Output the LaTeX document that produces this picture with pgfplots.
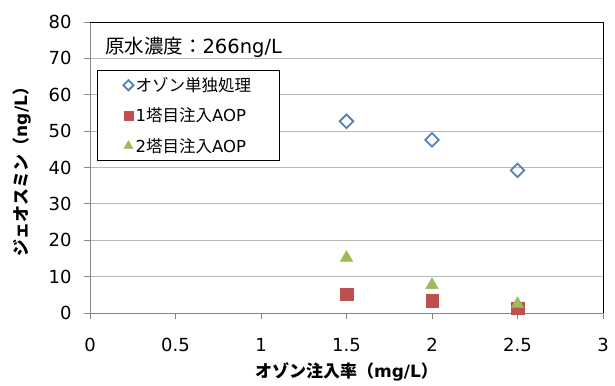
\documentclass[border=0pt]{standalone}
\usepackage{fontspec}
\setmainfont{DejaVu Sans}
\newfontfamily\cjk{Noto Sans CJK JP}
\usepackage{pgfplots}
\pgfplotsset{compat=1.18}
\definecolor{oblue}{HTML}{4F81BD}
\definecolor{ored}{HTML}{C0504D}
\definecolor{ogreen}{HTML}{9BBB59}
\definecolor{gridc}{HTML}{B8B8B8}
\definecolor{axc}{HTML}{868686}
\begin{document}
\begin{tikzpicture}
\useasboundingbox (-90bp,-73bp) rectangle (525bp,313bp);
\begin{axis}[
  at={(0,0)}, anchor=south west,
  scale only axis, width=513bp, height=291bp,
  xmin=0, xmax=3, ymin=0, ymax=80,
  xtick={0,0.5,1,1.5,2,2.5,3},
  xticklabels={0,0.5,1,1.5,2,2.5,3},
  ytick={0,10,...,80},
  /pgf/number format/assume math mode=true,
  tick label style={font=\fontsize{18bp}{20bp}\selectfont, text=black},
  tick align=outside,
  major tick length=6bp,
  tick style={axc, line width=0.8pt},
  axis line style={axc, line width=0.8pt},
  ymajorgrids, grid style={gridc, line width=0.8pt},
  xtick pos=bottom, ytick pos=left,
  yticklabel style={xshift=-9bp},
  xticklabel style={yshift=-16bp},
  xlabel={\bfseries {\cjk オゾン注入率（}mg/L{\cjk ）}},
  ylabel={\bfseries {\cjk ジェオスミン（}ng/L{\cjk ）}},
  label style={font=\fontsize{17bp}{19bp}\selectfont},
  xlabel style={at={(rel axis cs:0.5,0)}, anchor=center, yshift=-59bp},
  ylabel style={at={(rel axis cs:0,0.5)}, anchor=center, yshift=68bp},
  legend style={at={(rel axis cs:0.0136,0.835)}, anchor=north west,
    draw=black, line width=0.8pt, font=\fontsize{16.5bp}{18bp}\selectfont,
    row sep=11bp, inner xsep=26bp, inner ysep=5bp, cells={anchor=west, inner xsep=1bp}},
  legend image code/.code={\draw[mark repeat=2,mark phase=2, every mark/.append style={scale=0.75}] plot coordinates {(0bp,0bp)(14bp,0bp)(20bp,0bp)};},
  clip=false,
]
\addplot[only marks, mark=square, mark size=4.8bp, mark options={rotate=45, draw=oblue, line width=1.8pt, fill=white}]
  coordinates {(1.5,52.7) (2,47.6) (2.5,39.2)};
\addlegendentry{\cjk オゾン単独処理}
\addplot[only marks, mark=square*, mark size=6.3bp, mark options={draw=ored, fill=ored, line width=0.4pt}]
  coordinates {(1.5,5.2) (2,3.3) (2.5,1.3)};
\addlegendentry{1{\cjk 塔目注入}AOP\hspace{16bp}}
\addplot[only marks, mark=triangle*, mark size=7.2bp, mark options={draw=ogreen, fill=ogreen, line width=0.4pt}]
  coordinates {(1.5,15.2) (2,7.7) (2.5,2.5)};
\addlegendentry{2{\cjk 塔目注入}AOP}
\draw[black, line width=0.8pt] (rel axis cs:0,1) -- (rel axis cs:1,1) -- (rel axis cs:1,0);
\node[anchor=west, font=\fontsize{19.5bp}{21bp}\selectfont, inner sep=0pt] at (rel axis cs:0.029,0.914) {{\cjk 原水濃度：}266ng/L};
\end{axis}
\end{tikzpicture}
\end{document}
